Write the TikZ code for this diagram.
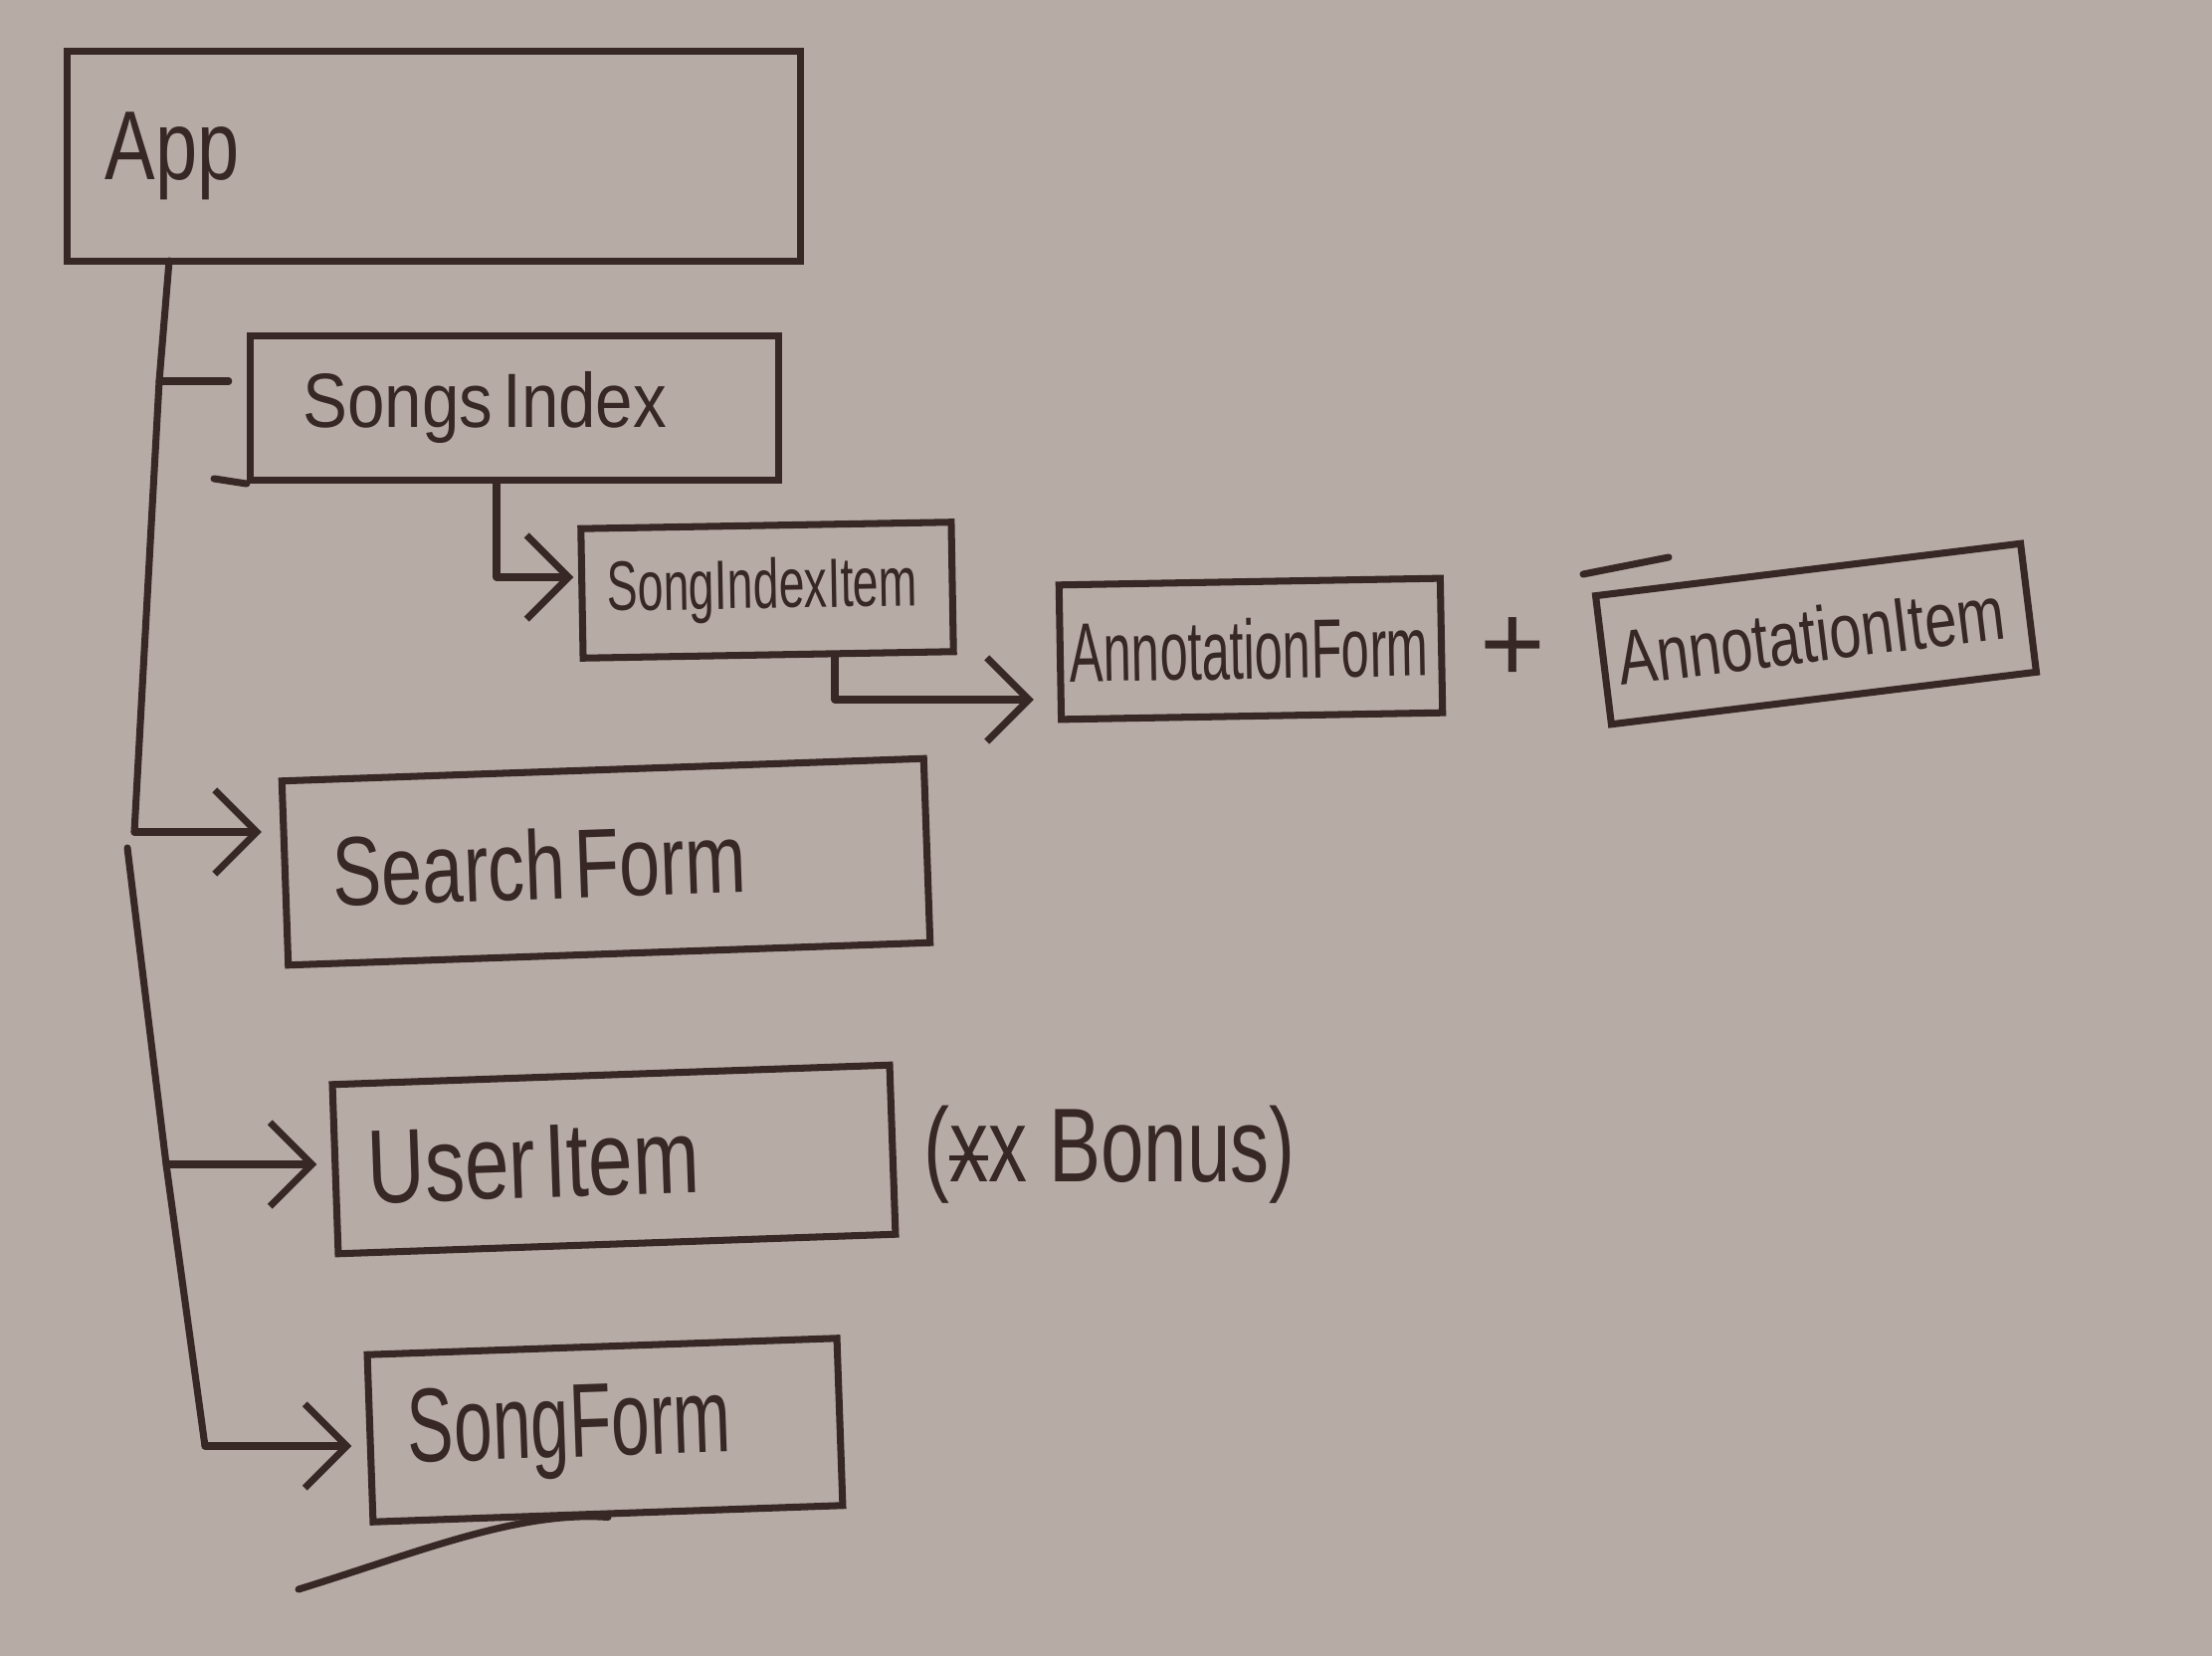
\documentclass[tikz,border=0pt]{standalone}
\usepackage{fontspec}
\setmainfont{Liberation Sans}
\usepackage{graphicx}
\usetikzlibrary{arrows.meta,calc}
\definecolor{paper}{RGB}{182,172,165}
\definecolor{ink}{RGB}{55,40,38}
\newcommand\hw[3]{\scalebox{#2}[1]{\fontsize{#1}{#1}\selectfont #3}}
\begin{document}
\begin{tikzpicture}[x=0.01cm,y=-0.01cm,
  box/.style={draw=ink, line width=2pt, rectangle, align=left, text=ink, inner ysep=0pt},
  conn/.style={draw=ink, line width=2pt, line join=round, line cap=round},
  arr/.style={conn, -{Straight Barb[length=12pt,width=24pt]}},
  lbl/.style={text=ink, inner sep=0pt}]
\fill[paper] (0,0) rectangle (2223,1664);
\useasboundingbox (0,0) rectangle (2223,1664);

% boxes
\node[box, minimum width=7.36cm, minimum height=2.1cm, text width=6.6cm, inner xsep=0.38cm] (app) at (436,157) {\hw{28}{0.77}{App}};
\node[box, minimum width=5.31cm, minimum height=1.45cm, text width=4.25cm, inner xsep=0.53cm] (songs) at (517,410) {\hw{22}{0.87}{Songs Index}};
\node[box, minimum width=3.72cm, minimum height=1.3cm, text width=3.22cm, inner xsep=0.25cm, rotate=1] (sii) at (771,593) {\hw{20}{0.66}{SongIndexItem}};
\node[box, minimum width=3.83cm, minimum height=1.35cm, text width=3.63cm, inner xsep=0.1cm, rotate=1] (aform) at (1257,652) {\hw{24}{0.6}{AnnotationForm}};
\node[lbl] (plus) at (1520,653) {\hw{32}{1}{+}};
\node[box, minimum width=4.3cm, minimum height=1.3cm, text width=4.0cm, inner xsep=0.15cm, rotate=7] (aitem) at (1825,637) {\hw{22}{0.75}{AnnotationItem}};
\node[box, minimum width=6.45cm, minimum height=1.85cm, text width=5.49cm, inner xsep=0.48cm, rotate=2] (search) at (609,866) {\hw{28}{0.75}{Search Form}};
\node[box, minimum width=5.6cm, minimum height=1.7cm, text width=4.96cm, inner xsep=0.32cm, rotate=2] (user) at (617,1165) {\hw{30}{0.76}{User Item}};
\node[lbl] (bonus) at (1115,1160) {\hw{30}{0.74}{(\rlap{\raisebox{0.2em}{\rule{0.5em}{0.05em}}}xx Bonus)}};
\node[box, minimum width=4.72cm, minimum height=1.68cm, text width=3.96cm, inner xsep=0.38cm, rotate=2] (songform) at (608,1437) {\hw{30}{0.66}{SongForm}};

% sketch extras
\draw[conn] (215,481) -- (songs.south west);
\draw[conn] (1591,577) -- (1677,560);
\draw[conn] (300,1597) .. controls (420,1560) and (520,1518) .. (songform.south);

% connector points
\coordinate (t0) at (170,262);
\coordinate (t1) at (160,383);
\coordinate (t2) at (135,836);
\coordinate (u0) at (128,852);
\coordinate (u1) at (167,1170);
\coordinate (u2) at (206,1453);
\coordinate (s0) at (499,483);
\coordinate (s1) at (499,580);
\coordinate (a0) at (839,659);
\coordinate (a1) at (839,703);

% connectors
\draw[conn] (t0) -- (t1) -- (t2);
\draw[conn, shorten >=0.18cm] (t1) -- (t1 -| songs.west);
\draw[arr, shorten >=0.2cm] (t2) -- (t2 -| search.west);
\draw[conn] (u0) -- (u1) -- (u2);
\draw[arr, shorten >=0.15cm] (u1) -- (u1 -| user.west);
\draw[arr, shorten >=0.15cm] (u2) -- (u2 -| songform.west);
\draw[arr, shorten >=0.05cm] (s0) -- (s1) -- (s1 -| sii.west);
\draw[arr, shorten >=0.23cm] (a0) -- (a1) -- (a1 -| aform.west);
\end{tikzpicture}
\end{document}
